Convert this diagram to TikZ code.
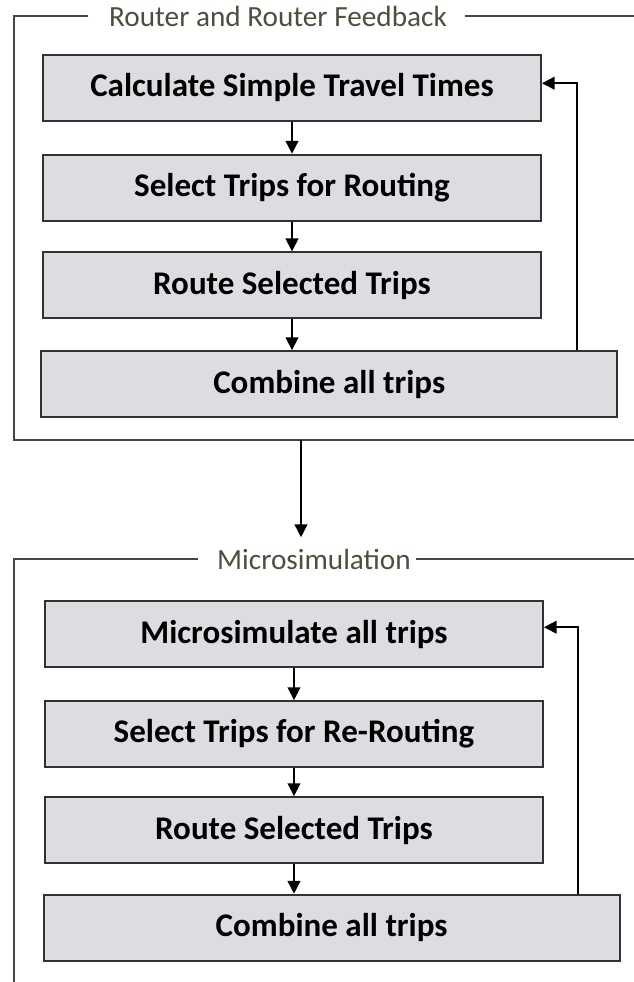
\documentclass[tikz,border=0pt]{standalone}
\usepackage{fontspec}
\setmainfont{Carlito}
\usepackage{xcolor}
\usepackage{tikz}
\usetikzlibrary{arrows.meta, positioning, calc}

\definecolor{boxfill}{RGB}{221,220,224}
\definecolor{boxline}{RGB}{50,50,50}
\definecolor{framegray}{RGB}{70,70,70}
\definecolor{labelgray}{RGB}{80,76,62}

\begin{document}
\begin{tikzpicture}[
    stepbox/.style={rectangle, draw=boxline, fill=boxfill, line width=1.3pt, minimum height=1.65cm, minimum width=12.45cm, align=center, font={\fontsize{23.5}{28}\selectfont\bfseries}},
    widebox/.style={stepbox, minimum width=14.4cm},
    framelabel/.style={inner sep=0pt, text=labelgray, font={\fontsize{20.8}{25}\selectfont}},
    frameline/.style={draw=framegray, line width=1.1pt},
    arr/.style={-{Triangle[length=0.32cm, width=0.32cm]}, line width=1.1pt}
]
\useasboundingbox (0,0) rectangle (15.85,-24.55);

% Router frame
\node[framelabel] (rlabel) at (6.95,-0.4) {Router and Router Feedback};
\draw[frameline] (2.2,-0.4) -- (0.35,-0.4) -- (0.35,-11.0) -- (15.85,-11.0);
\draw[frameline] (11.625,-0.4) -- (15.85,-0.4);

% Router steps
\node[stepbox] (r1) at (7.3,-2.19) {Calculate Simple Travel Times};
\node[stepbox] (r2) at (7.3,-4.69) {Select Trips for Routing};
\node[stepbox] (r3) at (7.3,-7.13) {Route Selected Trips};
\node[widebox] (r4) at (8.23,-9.6) {Combine all trips};

\draw[arr] (r1.south) -- (r2.north);
\draw[arr] (r2.south) -- (r3.north);
\draw[arr] (r3.south) -- (r3.south |- r4.north);

\coordinate (rback) at (14.425,-2.08);
\draw[arr] (r4.north -| rback) -- (rback) -- (rback -| r1.east);

% Link between frames
\coordinate (linktop) at (7.525,-11.0);
\coordinate (linkend) at (7.525,-13.43);
\draw[arr] (linktop) -- (linkend);

% Microsimulation frame
\node[framelabel] (mlabel) at (7.85,-13.975) {Microsimulation};
\draw[frameline] (4.95,-13.975) -- (0.35,-13.975) -- (0.35,-24.55);
\draw[frameline] (10.4,-13.975) -- (15.85,-13.975);

% Microsimulation steps
\node[stepbox] (m1) at (7.35,-15.85) {Microsimulate all trips};
\node[stepbox] (m2) at (7.35,-18.35) {Select Trips for Re-Routing};
\node[stepbox] (m3) at (7.35,-20.75) {Route Selected Trips};
\node[widebox] (m4) at (8.29,-23.19) {Combine all trips};

\draw[arr] (m1.south) -- (m2.north);
\draw[arr] (m2.south) -- (m3.north);
\draw[arr] (m3.south) -- (m3.south |- m4.north);

\coordinate (mback) at (14.45,-15.68);
\draw[arr] (m4.north -| mback) -- (mback) -- (mback -| m1.east);

\end{tikzpicture}
\end{document}
